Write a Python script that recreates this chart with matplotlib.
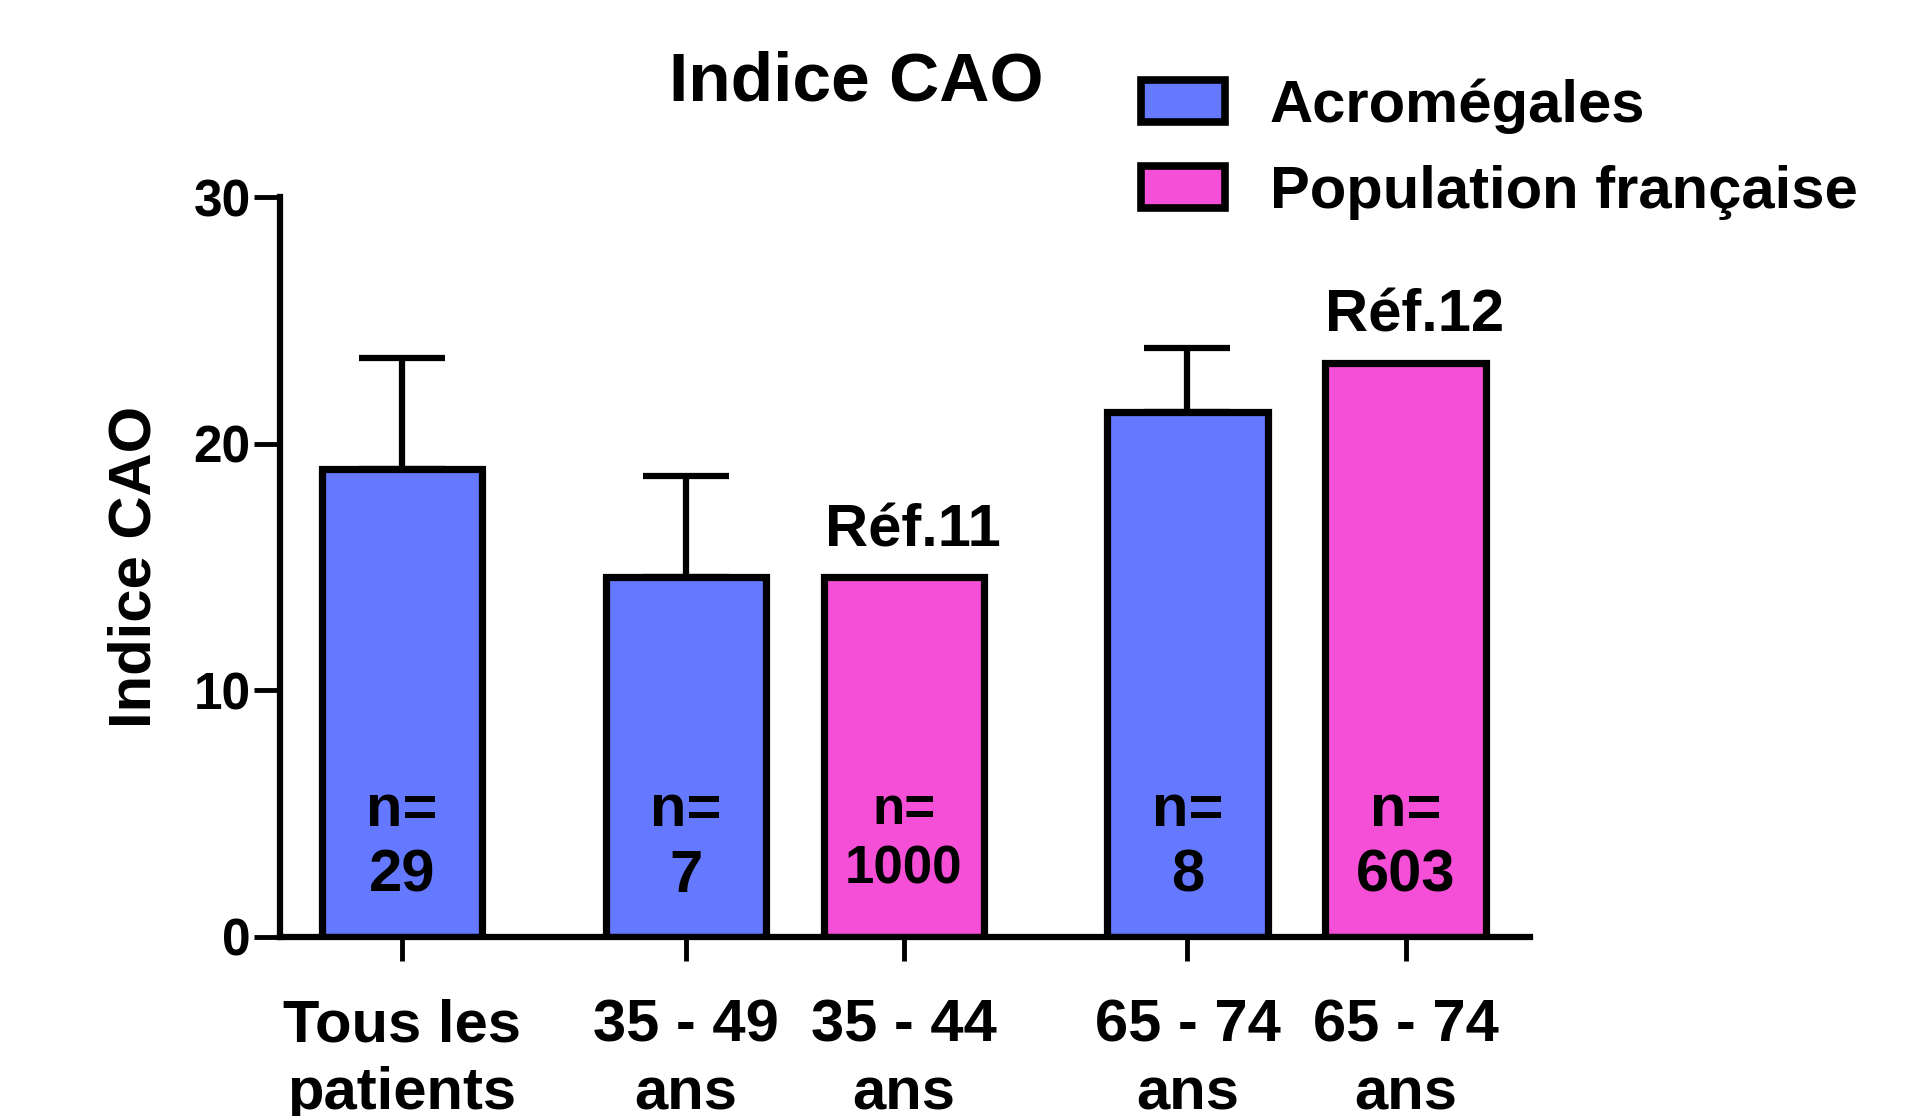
import numpy as np
import matplotlib
matplotlib.use("Agg")
import matplotlib.pyplot as plt
from matplotlib.patches import Patch

plt.rcParams['font.family'] = ['Liberation Sans', 'DejaVu Sans']
plt.rcParams['font.weight'] = 'bold'

# data
labels = ["Tous les\npatients", "35 - 49\nans", "35 - 44\nans", "65 - 74\nans", "65 - 74\nans"]
positions = [0, 1.3, 2.3, 3.6, 4.6]
values = [19.0, 14.6, 14.6, 21.3, 23.3]
err_up = [4.5, 4.1, 0, 2.6, 0]
group = ["acro", "acro", "pop", "acro", "pop"]
n_labels = ["n=\n29", "n=\n7", "n=\n1000", "n=\n8", "n=\n603"]
refs = {2: "Réf.11", 4: "Réf.12"}

BLUE = "#6479ff"
PINK = "#f44fd6"
colors = [BLUE if g == "acro" else PINK for g in group]

fig = plt.figure(figsize=(19.12, 11.16), dpi=100)
ax = fig.add_axes([0.1464, 0.1604, 0.6538, 0.6627])

ax.bar(positions, values, width=0.735, color=colors, edgecolor="black", linewidth=5.2, zorder=2)

# upper error bars only
pos_e = [p for p, e in zip(positions, err_up) if e > 0]
val_e = [v for v, e in zip(values, err_up) if e > 0]
up_e = [e for e in err_up if e > 0]
ax.errorbar(pos_e, val_e, yerr=[np.zeros(len(up_e)), up_e], fmt="none",
            ecolor="black", elinewidth=4.5, capsize=31, capthick=4.5, zorder=1)

# n= labels, last line baseline
for p, t in zip(positions, n_labels):
    big = "1000" not in t
    ax.text(p, 1.83 if big else 2.18, t, ha="center", va="baseline",
            fontsize=43 if big else 38, fontweight="bold", linespacing=1.25)

for i, t in refs.items():
    ax.text(positions[i] + 0.04, values[i] + 1.25, t, ha="center", va="baseline",
            fontsize=43, fontweight="bold")

ax.set_xlim(-0.56, 5.17)
ax.set_ylim(0, 30)
ax.set_yticks([0, 10, 20, 30])
ax.set_xticks(positions)
ax.set_xticklabels(labels, fontsize=43, fontweight="bold", linespacing=1.3)
ax.tick_params(axis="y", labelsize=37, length=19, width=3.5, pad=2)
ax.tick_params(axis="x", length=17, width=3.5, pad=27)
for s in ["top", "right"]:
    ax.spines[s].set_visible(False)
for s in ["left", "bottom"]:
    ax.spines[s].set_linewidth(4.5)

ax.set_ylabel("Indice CAO", fontsize=43, fontweight="bold", labelpad=22)
fig.text(0.448, 0.91, "Indice CAO", ha="center", va="baseline", fontsize=50, fontweight="bold")

handles = [Patch(facecolor=BLUE, edgecolor="black", linewidth=5.5, label="Acromégales"),
           Patch(facecolor=PINK, edgecolor="black", linewidth=5.5, label="Population française")]
fig.legend(handles=handles, loc="upper left", bbox_to_anchor=(0.597, 0.93), frameon=False,
           fontsize=43, handlelength=1.4, handleheight=0.7, handletextpad=0.75,
           labelspacing=0.52, borderpad=0, borderaxespad=0)

fig.savefig("out.png", dpi=100)
